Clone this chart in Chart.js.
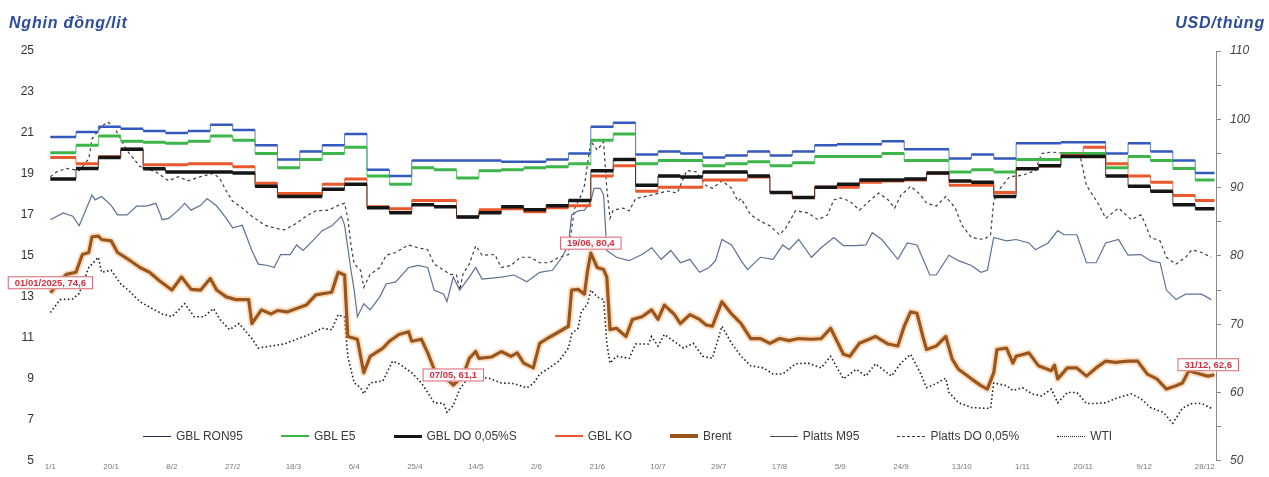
<!DOCTYPE html>
<html lang="vi">
<head>
<meta charset="utf-8">
<title>Diễn biến giá xăng dầu 2025</title>
<script src="https://cdn.jsdelivr.net/npm/chart.js@4.4.1/dist/chart.umd.min.js"></script>
<style>
    html, body { margin: 0; padding: 0; background: #fff; }
    .wrap { position: relative; width: 1269px; height: 477px; font-family: "Liberation Sans", Arial, sans-serif; }
    .wrap canvas { position: absolute; left: 0; top: 0; }
    .unit { position: absolute; top: 14px; font: italic bold 16px "Liberation Sans", Arial, sans-serif; color: #2b4c9e; letter-spacing: 0.8px; }
    .unit-left { left: 9px; }
    .unit-right { right: 4px; }
    .legend { position: absolute; left: 143px; top: 429px; display: flex; gap: 38px; font-size: 12px; color: #3a3a3a; line-height: 14px; }
    .legend-item { display: flex; align-items: center; white-space: nowrap; }
    .swatch { display: inline-block; width: 28px; height: 0; margin-right: 5px; }
</style>
</head>
<body>
<div class="wrap">
    <canvas id="chart" width="1269" height="477"></canvas>
    <div class="unit unit-left">Nghin đồng/lit</div>
    <div class="unit unit-right">USD/thùng</div>
    <div class="legend" id="legend"></div>
</div>
<script>
// --- Axis labels ---
// day 0 = 1/1/2025
const tickDays = [0, 19, 38, 57, 76, 95, 114, 133, 152, 171, 190, 209, 228, 247, 266, 285, 304, 323, 342, 361];
const tickLabels = ['1/1', '20/1', '8/2', '27/2', '18/3', '6/4', '25/4', '14/5', '2/6', '21/6',
    '10/7', '29/7', '17/8', '5/9', '24/9', '13/10', '1/11', '20/11', '9/12', '28/12'];
const endDay = 364;

// --- Retail prices (nghìn đồng/lít), one value per adjustment period ---
const adjustDays = [0, 8, 15, 22, 29, 36, 43, 50, 57, 64, 71, 78, 85, 92, 99, 106, 113, 120, 127, 134,
    141, 148, 155, 162, 169, 176, 183, 190, 197, 204, 211, 218, 225, 232, 239, 246, 253, 260, 267, 274,
    281, 288, 295, 302, 309, 316, 323, 330, 337, 344, 351, 358];
const ron95 = [20.8, 21.05, 21.3, 21.2, 21.1, 21.0, 21.1, 21.4, 21.15, 20.4, 19.7, 20.1, 20.4, 20.95, 19.2, 18.9, 19.65, 19.65, 19.65, 19.65,
    19.6, 19.6, 19.7, 20.0, 21.3, 21.5, 19.95, 20.1, 20.0, 19.8, 19.9, 20.1, 19.9, 20.1, 20.4, 20.45, 20.45, 20.6, 20.2, 20.2,
    19.75, 19.95, 19.75, 20.5, 20.5, 20.55, 20.55, 20.0, 20.5, 20.1, 19.65, 19.05];
const e5 = [20.04, 20.4, 20.85, 20.6, 20.55, 20.5, 20.6, 20.85, 20.65, 20.0, 19.3, 19.7, 20.0, 20.3, 18.9, 18.5, 19.3, 19.2, 18.8, 19.15,
    19.2, 19.3, 19.35, 19.5, 20.65, 20.95, 19.5, 19.65, 19.65, 19.4, 19.5, 19.6, 19.4, 19.55, 19.85, 19.85, 19.85, 20.0, 19.65, 19.65,
    19.1, 19.2, 19.1, 19.7, 19.7, 20.0, 20.0, 19.3, 19.85, 19.65, 19.26, 18.7];
const do005 = [18.75, 19.26, 19.8, 20.2, 19.25, 19.1, 19.1, 19.1, 19.05, 18.4, 17.9, 17.9, 18.25, 18.5, 17.35, 17.1, 17.5, 17.4, 16.9, 17.1,
    17.4, 17.25, 17.45, 17.7, 19.15, 19.7, 18.45, 18.9, 18.85, 19.1, 19.1, 18.9, 18.1, 17.85, 18.35, 18.5, 18.7, 18.7, 18.75, 19.05,
    18.65, 18.6, 17.9, 19.25, 19.4, 19.85, 19.85, 18.9, 18.4, 18.15, 17.5, 17.3];
const ko = [19.8, 19.5, 19.84, 20.2, 19.45, 19.45, 19.5, 19.5, 19.35, 18.55, 18.05, 18.05, 18.5, 18.75, 17.4, 17.3, 17.7, 17.7, 16.9, 17.25,
    17.3, 17.15, 17.35, 17.45, 18.9, 19.4, 18.15, 18.35, 18.35, 18.7, 18.7, 18.85, 18.1, 17.85, 18.35, 18.35, 18.6, 18.65, 18.7, 19.05,
    18.45, 18.45, 18.1, 19.26, 19.4, 19.9, 20.3, 19.5, 18.9, 18.6, 17.95, 17.7];

// --- World prices (USD/thùng) ---
const brentDays = [0, 5, 8, 10, 12, 13, 15, 16, 19, 21, 25, 28, 31, 34, 38, 41, 44, 47, 50, 52,
    55, 58, 62, 63, 66, 69, 71, 74, 77, 80, 83, 87, 88, 90, 92, 93, 96, 98, 100, 104,
    106, 109, 112, 113, 116, 118, 120, 123, 126, 129, 131, 133, 134, 138, 141, 144, 146, 148, 151, 153,
    155, 158, 162, 163, 165, 167, 168, 169, 171, 173, 174, 175, 177, 180, 182, 185, 188, 190, 192, 195,
    197, 200, 203, 205, 207, 210, 213, 216, 219, 222, 225, 228, 231, 234, 238, 241, 244, 248, 250, 253,
    256, 258, 262, 265, 267, 269, 271, 273, 274, 277, 280, 282, 284, 288, 291, 293, 295, 296, 299, 301,
    302, 306, 309, 313, 314, 315, 318, 321, 324, 327, 330, 333, 337, 340, 343, 346, 349, 352, 354, 356,
    358, 362, 364];
const brent = [74.6, 77.3, 77.6, 80.2, 80.5, 82.8, 82.9, 82.4, 82.2, 80.5, 79.3, 78.3, 77.6, 76.4, 75.0, 76.9, 75.1, 75.0, 76.7, 75.0,
    74.0, 73.6, 73.6, 70.1, 72.1, 71.5, 72.0, 71.8, 72.3, 72.8, 74.3, 74.6, 74.7, 77.6, 77.2, 68.2, 67.8, 62.9, 65.3, 66.5,
    67.5, 68.5, 68.9, 67.5, 67.8, 65.8, 63.4, 62.4, 61.1, 62.4, 65.0, 66.0, 65.0, 65.2, 66.0, 65.3, 65.8, 64.3, 63.6, 67.2,
    67.8, 68.6, 69.7, 75.0, 75.1, 74.4, 77.9, 80.4, 78.3, 78.0, 76.9, 69.2, 69.4, 68.2, 70.7, 71.1, 72.1, 70.7, 72.8, 71.5,
    70.1, 71.4, 70.7, 69.9, 69.7, 73.3, 71.5, 70.1, 67.9, 67.9, 67.2, 67.9, 67.6, 67.9, 67.8, 67.9, 69.4, 65.6, 65.3, 67.2,
    67.8, 68.2, 67.1, 66.8, 69.7, 71.8, 71.6, 67.9, 66.3, 66.8, 68.2, 64.9, 63.4, 62.0, 61.0, 60.5, 62.9, 66.3, 66.5, 64.3,
    65.3, 65.8, 63.9, 63.2, 64.0, 62.0, 63.6, 63.6, 62.4, 63.6, 64.6, 64.4, 64.6, 64.6, 62.7, 62.0, 60.5, 61.0, 61.4, 63.2,
    62.9, 62.4, 62.6];

const wtiDays = [0, 3, 7, 9, 12, 13, 15, 16, 19, 22, 25, 28, 31, 35, 38, 42, 45, 48, 51, 53,
    56, 59, 63, 65, 69, 73, 77, 81, 85, 88, 90, 92, 93, 95, 97, 98, 100, 104, 107, 109,
    113, 116, 118, 120, 123, 124, 126, 128, 131, 137, 141, 145, 149, 151, 153, 156, 159, 162, 163, 165,
    166, 168, 169, 171, 173, 174, 175, 177, 181, 183, 187, 188, 190, 192, 195, 198, 201, 204, 207, 210,
    213, 216, 219, 223, 226, 229, 233, 237, 241, 244, 248, 252, 255, 258, 263, 266, 269, 272, 274, 277,
    280, 281, 284, 288, 292, 294, 295, 299, 301, 304, 307, 310, 313, 315, 318, 321, 324, 327, 330, 333,
    338, 341, 344, 348, 351, 354, 357, 360, 363];
const wti = [71.7, 73.6, 73.7, 74.5, 78.3, 78.8, 79.8, 77.6, 77.9, 75.9, 74.7, 73.3, 72.5, 71.5, 71.1, 73.0, 71.1, 71.1, 72.3, 70.7,
    69.2, 70.1, 67.9, 66.5, 66.8, 67.1, 67.8, 68.5, 69.4, 69.2, 71.4, 71.0, 65.3, 61.4, 60.7, 59.8, 61.4, 61.7, 64.6, 64.2,
    62.9, 61.4, 60.0, 58.5, 58.4, 57.1, 58.1, 60.5, 62.4, 62.1, 61.4, 61.3, 60.7, 61.3, 62.7, 63.6, 64.6, 66.5, 68.6, 69.4,
    71.8, 73.0, 75.0, 74.0, 73.6, 67.2, 64.3, 65.3, 65.0, 67.1, 67.1, 68.2, 66.8, 68.5, 67.5, 66.5, 67.2, 65.3, 65.0, 69.7,
    67.2, 65.3, 63.9, 63.6, 62.7, 62.7, 64.2, 64.3, 63.6, 65.3, 62.0, 63.4, 62.4, 64.2, 62.4, 64.3, 65.6, 62.9, 60.7, 61.3,
    62.1, 60.0, 58.5, 57.8, 57.7, 57.7, 61.4, 61.0, 60.3, 60.7, 59.8, 59.5, 60.5, 58.5, 60.0, 60.0, 58.4, 58.4, 58.5, 59.1,
    59.8, 59.1, 57.8, 57.1, 55.5, 57.7, 58.4, 58.4, 57.7];

const m95Days = [0, 4, 7, 9, 10, 13, 14, 16, 19, 21, 24, 27, 30, 33, 35, 37, 40, 42, 44, 47,
    49, 52, 55, 57, 60, 63, 65, 68, 70, 72, 75, 77, 79, 82, 85, 88, 91, 92, 94, 95,
    96, 98, 100, 103, 105, 108, 112, 115, 118, 120, 123, 124, 126, 128, 131, 133, 135, 141, 145, 149,
    153, 157, 160, 162, 163, 165, 167, 169, 170, 172, 173, 174, 177, 181, 185, 188, 191, 194, 197, 200,
    203, 206, 208, 210, 213, 216, 218, 222, 226, 229, 231, 234, 238, 241, 245, 248, 252, 255, 257, 260,
    265, 268, 271, 275, 277, 281, 284, 288, 291, 293, 295, 299, 302, 306, 308, 312, 315, 317, 321, 324,
    327, 330, 334, 337, 341, 344, 347, 349, 352, 355, 360, 363];
const m95 = [85.3, 86.3, 85.8, 84.4, 85.5, 88.9, 88.2, 88.7, 87.4, 86.0, 86.0, 87.3, 87.3, 87.7, 85.3, 85.5, 86.7, 87.7, 86.7, 87.4,
    88.4, 87.3, 85.5, 84.1, 84.5, 80.8, 78.8, 78.6, 78.3, 80.2, 80.2, 81.6, 80.8, 82.2, 83.7, 84.4, 85.8, 84.5, 77.9, 75.0,
    71.1, 73.0, 72.1, 74.0, 75.9, 76.2, 78.3, 78.6, 78.3, 75.0, 74.4, 73.3, 76.9, 75.0, 76.9, 78.3, 76.6, 76.9, 77.2, 76.2,
    77.6, 77.9, 79.8, 81.6, 86.0, 86.6, 86.7, 88.0, 89.9, 89.9, 88.9, 80.8, 79.8, 79.3, 80.2, 81.2, 79.5, 80.8, 79.0, 79.5,
    77.6, 78.3, 79.3, 82.4, 81.6, 79.3, 78.0, 79.8, 79.5, 81.6, 80.9, 82.4, 79.8, 81.2, 82.7, 81.5, 81.5, 81.6, 83.4, 82.4,
    79.5, 81.9, 81.6, 77.2, 77.2, 80.1, 79.3, 78.6, 77.6, 77.9, 82.7, 82.2, 82.4, 81.9, 80.9, 81.9, 83.7, 83.1, 83.1, 79.0,
    79.0, 81.9, 82.4, 80.1, 80.2, 79.3, 79.0, 75.0, 73.6, 74.4, 74.4, 73.6];

const plattsDoDays = [0, 2, 5, 9, 12, 13, 16, 18, 20, 24, 28, 33, 37, 40, 43, 47, 51, 53, 55, 57,
    60, 63, 67, 70, 73, 76, 80, 83, 87, 90, 92, 93, 94, 95, 97, 98, 100, 103, 105, 108,
    112, 115, 118, 120, 123, 125, 127, 128, 129, 131, 133, 135, 139, 141, 144, 147, 150, 153, 156, 159,
    162, 163, 164, 166, 167, 169, 171, 173, 174, 175, 176, 179, 181, 183, 188, 193, 196, 199, 202, 205,
    207, 210, 213, 215, 216, 219, 222, 225, 228, 230, 233, 237, 240, 243, 245, 247, 250, 253, 256, 259,
    262, 264, 266, 269, 272, 274, 277, 280, 283, 285, 288, 292, 294, 295, 297, 300, 304, 308, 310, 313,
    318, 322, 324, 328, 330, 334, 338, 341, 342, 344, 347, 349, 352, 355, 357, 360, 363];
const plattsDo = [91.6, 92.3, 92.8, 92.5, 94.2, 97.1, 99.0, 99.6, 98.8, 95.4, 93.1, 92.3, 91.0, 91.6, 91.0, 91.6, 92.1, 91.3, 89.5, 88.0,
    87.0, 85.8, 84.5, 84.1, 83.8, 84.5, 85.8, 86.6, 86.7, 87.4, 87.7, 85.5, 81.6, 78.8, 77.9, 75.4, 77.3, 78.3, 80.1, 80.5,
    81.6, 81.2, 80.9, 78.8, 77.9, 77.3, 77.2, 75.0, 77.3, 78.8, 81.5, 80.1, 80.2, 78.3, 78.6, 79.8, 79.8, 79.0, 79.0, 79.8,
    80.2, 84.1, 87.0, 88.9, 90.3, 96.8, 95.5, 96.7, 89.9, 85.5, 86.7, 87.0, 86.6, 88.4, 88.9, 89.5, 89.2, 92.5, 92.3, 90.3,
    89.9, 91.0, 89.9, 88.0, 88.4, 86.0, 85.1, 84.4, 83.1, 84.1, 86.6, 86.3, 85.3, 86.0, 88.2, 88.5, 88.0, 86.7, 88.0, 89.2,
    88.2, 87.0, 88.9, 90.2, 89.0, 87.7, 87.3, 88.7, 87.0, 84.5, 82.7, 82.4, 83.1, 88.0, 89.9, 91.6, 91.8, 92.5, 95.0, 95.2,
    95.0, 94.7, 90.3, 87.4, 85.5, 87.0, 85.3, 86.0, 85.1, 82.7, 82.2, 79.8, 78.8, 79.8, 80.9, 80.5, 79.8];

// --- Brent call-outs ---
const calloutDays = [0, 126, 169, 364];
const calloutDates = ['01/01/2025', '07/05', '19/06', '31/12'];
const calloutValues = [74.6, 61.1, 80.4, 62.6];


// --- Helpers ---

function toPoints(days, values) {
    return days.map((d, i) => ({ x: d, y: values[i] }));
}

// thick horizontal bar for each price period, broken between periods
function periodBars(values) {
    const pts = [];
    values.forEach((v, i) => {
        const end = i + 1 < adjustDays.length ? adjustDays[i + 1] : endDay;
        pts.push({ x: adjustDays[i], y: v }, { x: end, y: v }, { x: end, y: null });
    });
    return pts;
}

// thin stepped line that links the bars
function periodSteps(values) {
    const pts = values.map((v, i) => ({ x: adjustDays[i], y: v }));
    pts.push({ x: endDay, y: values[values.length - 1] });
    return pts;
}

const retail = [
    { label: 'GBL DO 0,05%S', values: do005, color: '#151515', width: 3.5 },
    { label: 'GBL KO', values: ko, color: '#e8582c', width: 3 },
    { label: 'GBL E5', values: e5, color: '#3cb54a', width: 3 },
    { label: 'GBL RON95', values: ron95, color: '#3459bd', width: 2.5 },
];

const datasets = [];
retail.forEach(r => {
    datasets.push({
        label: r.label, data: periodBars(r.values), yAxisID: 'yLeft',
        borderColor: r.color, borderWidth: r.width, pointRadius: 0, spanGaps: false,
    });
});
retail.forEach(r => {
    datasets.push({
        label: '', data: periodSteps(r.values), yAxisID: 'yLeft', stepped: true,
        borderColor: r.color, borderWidth: 0.8, pointRadius: 0,
    });
});
datasets.push(
    { label: 'Brent', data: toPoints(brentDays, brent), yAxisID: 'yRight',
      borderColor: '#9a561c', borderWidth: 3.2, pointRadius: 0, borderJoinStyle: 'round' },
    { label: '', data: toPoints(brentDays, brent), yAxisID: 'yRight',
      borderColor: 'rgba(246, 170, 100, 0.4)', borderWidth: 7, pointRadius: 0, borderJoinStyle: 'round' },
    { label: 'Platts M95', data: toPoints(m95Days, m95), yAxisID: 'yRight',
      borderColor: '#5c7194', borderWidth: 1.2, pointRadius: 0 },
    { label: 'Platts DO 0,05%', data: toPoints(plattsDoDays, plattsDo), yAxisID: 'yRight',
      borderColor: '#3c3c3c', borderWidth: 1.2, borderDash: [3, 3], pointRadius: 0 },
    { label: 'WTI', data: toPoints(wtiDays, wti), yAxisID: 'yRight',
      borderColor: '#1a1a1a', borderWidth: 1.6, borderDash: [1.5, 2.5], pointRadius: 0 },
);

// --- Legend (drawn as html inside the plot, like the original) ---
const legendItems = [
    { label: 'GBL RON95', color: '#1d2b4a', width: 1.5, style: 'solid' },
    { label: 'GBL E5', color: '#3cb54a', width: 2, style: 'solid' },
    { label: 'GBL DO 0,05%S', color: '#151515', width: 3, style: 'solid' },
    { label: 'GBL KO', color: '#e8582c', width: 2, style: 'solid' },
    { label: 'Brent', color: '#9a561c', width: 4, style: 'solid' },
    { label: 'Platts M95', color: '#3c4a60', width: 1.2, style: 'solid' },
    { label: 'Platts DO 0,05%', color: '#3c3c3c', width: 1.2, style: 'dashed' },
    { label: 'WTI', color: '#1a1a1a', width: 1.6, style: 'dotted' },
];
const legendEl = document.getElementById('legend');
legendItems.forEach(item => {
    const el = document.createElement('div');
    el.className = 'legend-item';
    el.innerHTML = `<span class="swatch" style="border-top: ${item.width}px ${item.style} ${item.color};"></span><span>${item.label}</span>`;
    legendEl.appendChild(el);
});

// --- Call-out boxes for Brent ---
const calloutPlugin = {
    id: 'callouts',
    afterDatasetsDraw(chart) {
        const c = chart.ctx;
        const xs = chart.scales.x, ys = chart.scales.yRight;
        c.save();
        c.font = 'bold 9.5px "Liberation Sans", Arial, sans-serif';
        c.textAlign = 'center';
        c.textBaseline = 'middle';
        calloutDays.forEach((d, i) => {
            const text = `${calloutDates[i]}, ${calloutValues[i].toFixed(1).replace('.', ',')}`;
            const w = c.measureText(text).width + 14, h = 13;
            let cx = xs.getPixelForValue(d);
            const cy = ys.getPixelForValue(calloutValues[i]) - 10;
            cx = Math.min(Math.max(cx, w / 2 + 4), chart.width - w / 2 - 30);
            c.fillStyle = '#fff';
            c.fillRect(cx - w / 2, cy - h / 2, w, h);
            c.strokeStyle = '#d9646e';
            c.lineWidth = 1;
            c.strokeRect(cx - w / 2 + 0.5, cy - h / 2 + 0.5, w - 1, h - 1);
            c.fillStyle = '#d2303e';
            c.fillText(text, cx, cy + 0.5);
        });
        c.restore();
    }
};

Chart.defaults.font.family = '"Liberation Sans", Arial, sans-serif';

new Chart(document.getElementById('chart'), {
    type: 'line',
    data: { datasets },
    options: {
        responsive: false,
        animation: false,
        layout: { padding: { top: 51, right: 0, bottom: 0, left: 0 } },
        plugins: { legend: { display: false }, tooltip: { enabled: false } },
        elements: { line: { tension: 0 } },
        scales: {
            x: {
                type: 'linear', min: -2, max: 364.5,
                afterBuildTicks: s => { s.ticks = tickDays.map(v => ({ value: v })); },
                ticks: { callback: (v, i) => tickLabels[i], font: { size: 8 }, color: '#7a7a7a',
                         padding: 1, maxRotation: 0, autoSkip: false },
                grid: { display: false, drawTicks: false, tickLength: 0 },
                border: { display: false },
                afterFit: s => { s.height = 11; }
            },
            yLeft: {
                position: 'left', min: 5, max: 25,
                ticks: { stepSize: 2, font: { size: 12 }, color: '#333', padding: 2 },
                grid: { display: false },
                border: { display: false },
                afterFit: s => { s.width = 44; }
            },
            yRight: {
                position: 'right', min: 50, max: 110,
                ticks: { stepSize: 5, callback: v => (v % 10 === 0 ? v : ''),
                         font: { size: 12, style: 'italic' }, color: '#444', padding: 9 },
                grid: { drawOnChartArea: false, tickLength: 5, color: '#8a8a8a' },
                border: { display: true, color: '#8a8a8a' },
                afterFit: s => { s.width = 53; }
            }
        }
    },
    plugins: [calloutPlugin]
});
</script>
</body>
</html>
